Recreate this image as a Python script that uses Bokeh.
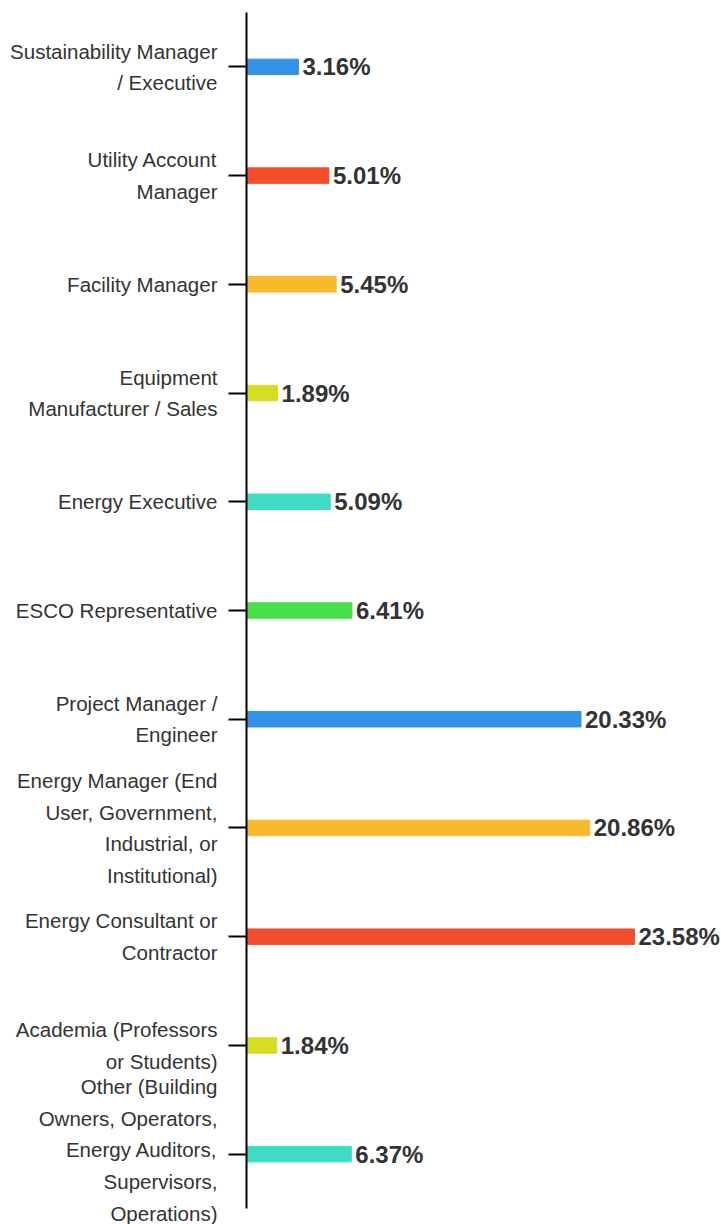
from bokeh.plotting import figure
from bokeh.models import ColumnDataSource, FactorRange, Range1d
from bokeh.core.properties import value
from bokeh.embed import file_html
from bokeh.resources import INLINE

categories = [
    "Sustainability Manager\n/ Executive",
    "Utility Account\nManager",
    "Facility Manager",
    "Equipment\nManufacturer / Sales",
    "Energy Executive",
    "ESCO Representative",
    "Project Manager /\nEngineer",
    "Energy Manager (End\nUser, Government,\nIndustrial, or\nInstitutional)",
    "Energy Consultant or\nContractor",
    "Academia (Professors\nor Students)",
    "Other (Building\nOwners, Operators,\nEnergy Auditors,\nSupervisors,\nOperations)",
]
values = [3.16, 5.01, 5.45, 1.89, 5.09, 6.41, 20.33, 20.86, 23.58, 1.84, 6.37]
colors = ["#3192E6", "#F44E2C", "#F7BA2B", "#D6DE23", "#3EDCC4", "#46E04A",
          "#3192E6", "#F7BA2B", "#F44E2C", "#D6DE23", "#3EDCC4"]
labels = [f"{v:.2f}%" for v in values]

src = ColumnDataSource(dict(cat=categories, val=values, color=colors, label=labels))

p = figure(
    width=721, height=1224,
    y_range=FactorRange(factors=list(reversed(categories)), range_padding=0),
    x_range=Range1d(0, 28.87),
    output_backend="svg", toolbar_location=None,
    min_border_left=246, min_border_right=0, min_border_top=12, min_border_bottom=16,
)
p.outline_line_color = None
p.background_fill_color = "white"
p.border_fill_color = "white"
p.xgrid.visible = False
p.ygrid.visible = False
p.xaxis.visible = False

p.hbar(y="cat", right="val", left=0, height=0.142, color="color", source=src)
p.text(x="val", y="cat", text="label", source=src, x_offset=4,
       text_font=value("Liberation Sans"), text_font_style="bold",
       text_font_size="24px", text_color="#333333",
       text_baseline="middle", text_align="left")

ax = p.yaxis[0]
ax.axis_line_color = "black"
ax.axis_line_width = 2
ax.major_tick_line_color = "black"
ax.major_tick_line_width = 2
ax.major_tick_out = 18
ax.major_tick_in = 0
ax.major_label_standoff = 11
ax.major_label_text_font = "Liberation Sans"
ax.major_label_text_font_size = "20.5px"
ax.major_label_text_color = "#333333"
ax.major_label_text_line_height = 1.37

open("out.html", "w").write(file_html(p, INLINE))
